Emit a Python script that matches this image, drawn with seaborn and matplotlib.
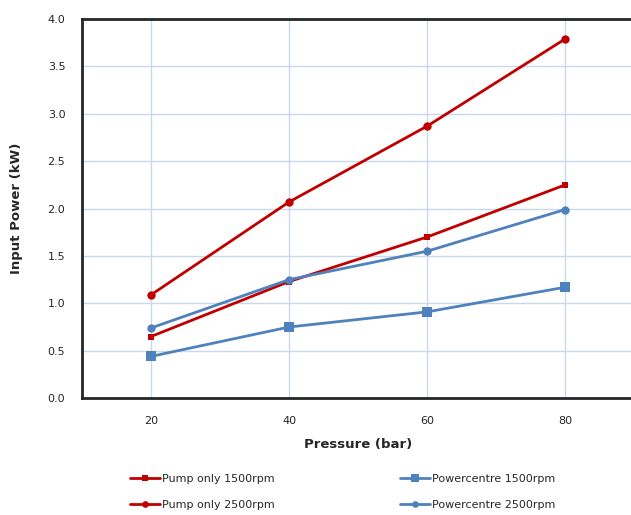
import matplotlib
matplotlib.use("Agg")
import matplotlib.pyplot as plt
import numpy as np
import pandas as pd
import seaborn as sns

# data
pressure = [20, 40, 60, 80]
pump_1500 = [0.65, 1.23, 1.70, 2.25]
pump_2500 = [1.09, 2.07, 2.87, 3.79]
pc_1500 = [0.44, 0.75, 0.91, 1.17]
pc_2500 = [0.74, 1.25, 1.55, 1.99]

series_names = ["Pump only 1500rpm", "Pump only 2500rpm",
                "Powercentre 1500rpm", "Powercentre 2500rpm"]
series_vals = [pump_1500, pump_2500, pc_1500, pc_2500]

RED = "#C00000"
BLUE = "#4F81BD"
colors = {series_names[0]: RED, series_names[1]: RED,
          series_names[2]: BLUE, series_names[3]: BLUE}
markers = {series_names[0]: "s", series_names[1]: "o",
           series_names[2]: "s", series_names[3]: "o"}
msizes = {series_names[0]: 5, series_names[1]: 6,
          series_names[2]: 7, series_names[3]: 6}

df = pd.DataFrame(
    [(p, v, name) for name, vals in zip(series_names, series_vals)
     for p, v in zip(pressure, vals)],
    columns=["Pressure", "Power", "Series"],
)

sns.set_style("white")
plt.rcParams["font.family"] = ["DejaVu Sans"]

fig = plt.figure(figsize=(6.31, 5.15), dpi=100)
ax = fig.add_axes([0.130, 0.227, 0.875, 0.736])

ax.set_xlim(10, 90)
ax.set_ylim(0, 4.0)
ax.set_xticks(pressure)
ax.set_xticks([30, 50, 70], minor=True)
ax.set_yticks(np.arange(0, 4.01, 0.5))
ax.set_yticklabels([f"{t:.1f}" for t in np.arange(0, 4.01, 0.5)])

ax.grid(True, which="major", color="#C9D8EC", linewidth=1)
ax.set_axisbelow(True)

for name in series_names:
    sub = df[df["Series"] == name]
    sns.lineplot(data=sub, x="Pressure", y="Power", ax=ax, color=colors[name],
                 marker=markers[name], markersize=msizes[name],
                 markeredgewidth=0, linewidth=2, label=name)

for side in ["left", "bottom", "top"]:
    ax.spines[side].set_color("#262626")
    ax.spines[side].set_linewidth(2)
ax.spines["right"].set_visible(False)

ax.tick_params(axis="both", which="both", direction="in", length=4,
               color="#262626", labelsize=8, labelcolor="#262626")
ax.tick_params(axis="x", which="major", length=0, pad=13)
ax.tick_params(axis="x", which="minor", length=4)
ax.tick_params(axis="y", pad=12)

ax.set_xlabel("Pressure (bar)", fontsize=9.5, fontweight="bold")
ax.set_ylabel("Input Power (kW)", fontsize=9.5, fontweight="bold")
ax.xaxis.set_label_coords(0.5, -0.105)
ax.yaxis.set_label_coords(-0.107, 0.5)

handles, labels = ax.get_legend_handles_labels()
leg = ax.legend(handles, labels,
                loc="upper left", bbox_to_anchor=(0.079, -0.188), ncol=2,
                frameon=False, fontsize=8, handlelength=2.7,
                handletextpad=0.15, columnspacing=11.3, labelspacing=1.45,
                markerscale=0.8, borderaxespad=0)
for t in leg.get_texts():
    t.set_color("#262626")

fig.savefig("out.png", dpi=100)
